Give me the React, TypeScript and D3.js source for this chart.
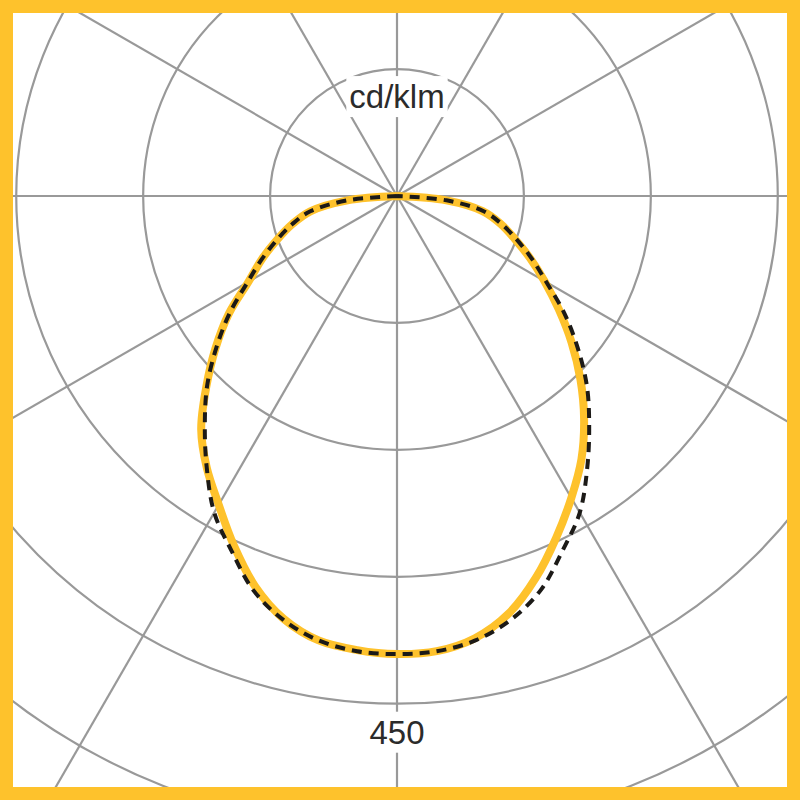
import React, { useRef, useEffect } from "react";
import * as d3 from "d3";

// polar intensity diagram, values in cd/klm, gamma measured from nadir
const gammaAngles = [0, 5, 10, 15, 20, 25, 30, 35, 40, 45, 50, 55, 60, 65, 70, 75, 80, 85, 90];
const planeC0 = [406, 405, 398, 383, 360, 334, 309, 285, 258, 230, 202, 175, 151, 130, 111, 95, 77, 44, 0];
const planeC180 = [406, 404, 400, 388, 368, 342, 316, 294, 270, 239, 210, 182, 152, 132, 113, 96, 78, 44, 0];
const planeC90 = [406, 405, 400, 389, 372, 347, 324, 294, 265, 238, 209, 181, 153, 132, 113, 96, 78, 44, 0];
const planeC270 = [406, 405, 400, 389, 372, 347, 324, 294, 265, 238, 209, 181, 153, 132, 113, 96, 78, 44, 0];

const ringValues = [112.5, 225, 337.5, 450, 562.5];
const spokeAngles = [0, 30, 60, 90, 120, 150, 180, 210, 240, 270, 300, 330];
const unitLabel = "cd/klm";
const scaleValue = 450;

const width = 800;
const height = 800;
const frame = 13;
const center = { x: 397, y: 196 };

const yellow = "#FEC22C";
const gridColor = "#999999";
const fontFamily = "'Helvetica Neue', 'Liberation Sans', Arial, sans-serif";

const rScale = d3.scaleLinear().domain([0, 450]).range([0, 507.7]);
const rad = Math.PI / 180;

// left half goes from gamma 90 down to nadir, then right half back up to 90
const buildOutline = (left: number[], right: number[]) => {
  const leftPts = gammaAngles.map((g, i) => ({ a: Math.PI + g * rad, v: left[i] })).reverse();
  const rightPts = gammaAngles.slice(1).map((g, i) => ({ a: Math.PI - g * rad, v: right[i + 1] }));
  return [...leftPts, ...rightPts];
};

const lineGenerator = d3
  .lineRadial<{ a: number; v: number }>()
  .angle((d) => d.a)
  .radius((d) => rScale(d.v))
  .curve(d3.curveCatmullRom.alpha(0.5));

export default function App() {
  const svgRef = useRef<SVGSVGElement>(null);

  useEffect(() => {
    if (!svgRef.current) return;
    const svg = d3.select(svgRef.current);
    svg.selectAll("*").remove();

    svg.append("rect").attr("width", width).attr("height", height).attr("fill", "#fff");

    const bounds = svg.append("g").attr("transform", `translate(${center.x},${center.y})`);

    // grid
    bounds
      .append("g")
      .selectAll("line")
      .data(spokeAngles)
      .join("line")
      .attr("x1", 0)
      .attr("y1", 0)
      .attr("x2", (d) => Math.sin(d * rad) * 1200)
      .attr("y2", (d) => -Math.cos(d * rad) * 1200)
      .attr("stroke", gridColor)
      .attr("stroke-width", 2.2);

    bounds
      .append("g")
      .selectAll("circle")
      .data(ringValues)
      .join("circle")
      .attr("r", (d) => rScale(d))
      .attr("fill", "none")
      .attr("stroke", gridColor)
      .attr("stroke-width", 2.2);

    // labels with a white patch that cuts the vertical axis
    const addLabel = (text: string, y: number) => {
      const g = bounds.append("g");
      const bg = g.append("rect").attr("fill", "#fff");
      const t = g
        .append("text")
        .attr("x", 0)
        .attr("y", y)
        .attr("text-anchor", "middle")
        .attr("font-family", fontFamily)
        .attr("font-weight", 300)
        .attr("font-size", 33)
        .attr("fill", "#2b2b2b")
        .text(text);
      const box = (t.node() as SVGTextElement).getBBox();
      bg.attr("x", box.x - 3)
        .attr("y", box.y - 2)
        .attr("width", box.width + 6)
        .attr("height", box.height + 4);
    };
    addLabel(unitLabel, -rScale(ringValues[0]) + 39);
    addLabel(String(scaleValue), rScale(scaleValue) + 40);

    // curves
    bounds
      .append("path")
      .attr("d", lineGenerator(buildOutline(planeC180, planeC0)))
      .attr("fill", "none")
      .attr("stroke", yellow)
      .attr("stroke-width", 8)
      .attr("stroke-linejoin", "round");

    bounds
      .append("path")
      .attr("d", lineGenerator(buildOutline(planeC270, planeC90)))
      .attr("fill", "none")
      .attr("stroke", "#1c1a17")
      .attr("stroke-width", 4)
      .attr("stroke-dasharray", "10 7");

    // frame
    svg
      .append("rect")
      .attr("x", frame / 2)
      .attr("y", frame / 2)
      .attr("width", width - frame)
      .attr("height", height - frame)
      .attr("fill", "none")
      .attr("stroke", yellow)
      .attr("stroke-width", frame);
  }, []);

  return (
    <svg
      ref={svgRef}
      width={width}
      height={height}
      style={{ position: "absolute", left: 0, top: 0, display: "block" }}
    />
  );
}
